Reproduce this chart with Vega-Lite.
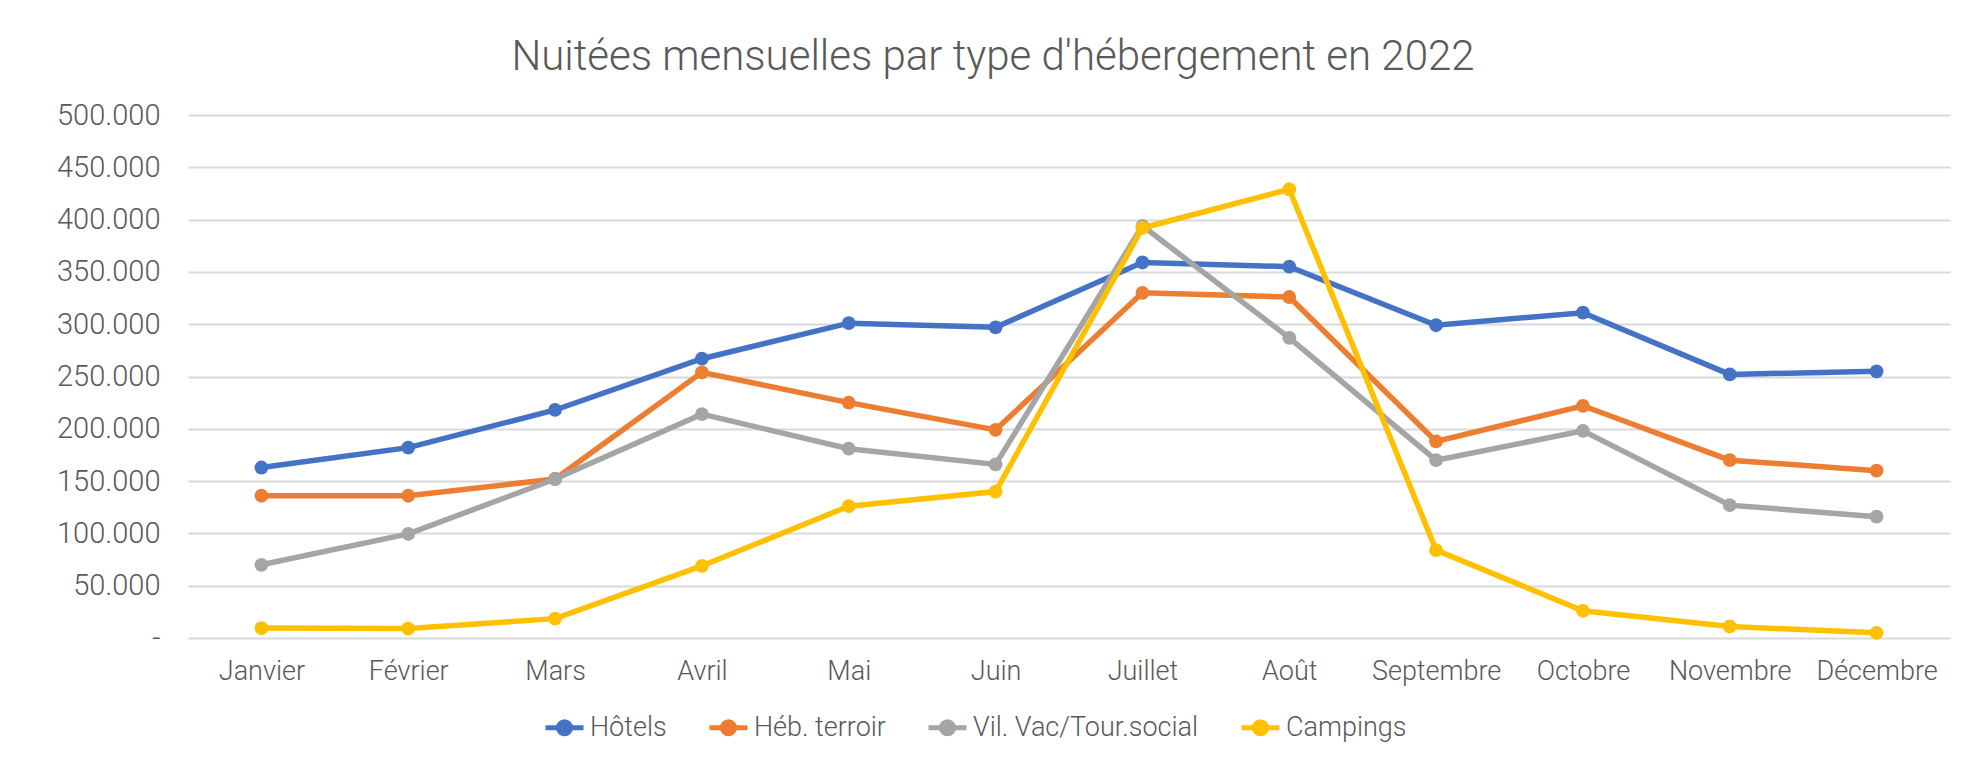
{
  "$schema": "https://vega.github.io/schema/vega-lite/v6.json",
  "width": 1762,
  "height": 523,
  "autosize": {"type": "none"},
  "padding": {"left": 188, "top": 115, "right": 12, "bottom": 124},
  "background": "white",
  "config": {
    "locale": {"number": {"decimal": ",", "thousands": ".", "grouping": [3], "currency": ["", " €"]}},
    "font": "Roboto",
    "view": {"stroke": null}
  },
  "title": {
    "text": "Nuitées mensuelles par type d'hébergement en 2022",
    "fontSize": 42,
    "font": "Roboto",
    "fontWeight": 300,
    "color": "#595959",
    "anchor": "middle",
    "frame": "group",
    "dx": -76,
    "offset": 22
  },
  "data": {
    "values": [
      {"mois": "Janvier", "type": "Hôtels", "nuitees": 163000},
      {"mois": "Février", "type": "Hôtels", "nuitees": 182000},
      {"mois": "Mars", "type": "Hôtels", "nuitees": 218000},
      {"mois": "Avril", "type": "Hôtels", "nuitees": 267000},
      {"mois": "Mai", "type": "Hôtels", "nuitees": 301000},
      {"mois": "Juin", "type": "Hôtels", "nuitees": 297000},
      {"mois": "Juillet", "type": "Hôtels", "nuitees": 359000},
      {"mois": "Août", "type": "Hôtels", "nuitees": 355000},
      {"mois": "Septembre", "type": "Hôtels", "nuitees": 299000},
      {"mois": "Octobre", "type": "Hôtels", "nuitees": 311000},
      {"mois": "Novembre", "type": "Hôtels", "nuitees": 252000},
      {"mois": "Décembre", "type": "Hôtels", "nuitees": 255000},
      {"mois": "Janvier", "type": "Héb. terroir", "nuitees": 136000},
      {"mois": "Février", "type": "Héb. terroir", "nuitees": 136000},
      {"mois": "Mars", "type": "Héb. terroir", "nuitees": 152000},
      {"mois": "Avril", "type": "Héb. terroir", "nuitees": 254000},
      {"mois": "Mai", "type": "Héb. terroir", "nuitees": 225000},
      {"mois": "Juin", "type": "Héb. terroir", "nuitees": 199000},
      {"mois": "Juillet", "type": "Héb. terroir", "nuitees": 330000},
      {"mois": "Août", "type": "Héb. terroir", "nuitees": 326000},
      {"mois": "Septembre", "type": "Héb. terroir", "nuitees": 188000},
      {"mois": "Octobre", "type": "Héb. terroir", "nuitees": 222000},
      {"mois": "Novembre", "type": "Héb. terroir", "nuitees": 170000},
      {"mois": "Décembre", "type": "Héb. terroir", "nuitees": 160000},
      {"mois": "Janvier", "type": "Vil. Vac/Tour.social", "nuitees": 70000},
      {"mois": "Février", "type": "Vil. Vac/Tour.social", "nuitees": 99500},
      {"mois": "Mars", "type": "Vil. Vac/Tour.social", "nuitees": 152000},
      {"mois": "Avril", "type": "Vil. Vac/Tour.social", "nuitees": 214000},
      {"mois": "Mai", "type": "Vil. Vac/Tour.social", "nuitees": 181000},
      {"mois": "Juin", "type": "Vil. Vac/Tour.social", "nuitees": 166000},
      {"mois": "Juillet", "type": "Vil. Vac/Tour.social", "nuitees": 394000},
      {"mois": "Août", "type": "Vil. Vac/Tour.social", "nuitees": 287000},
      {"mois": "Septembre", "type": "Vil. Vac/Tour.social", "nuitees": 170000},
      {"mois": "Octobre", "type": "Vil. Vac/Tour.social", "nuitees": 198000},
      {"mois": "Novembre", "type": "Vil. Vac/Tour.social", "nuitees": 127000},
      {"mois": "Décembre", "type": "Vil. Vac/Tour.social", "nuitees": 116000},
      {"mois": "Janvier", "type": "Campings", "nuitees": 9500},
      {"mois": "Février", "type": "Campings", "nuitees": 9000},
      {"mois": "Mars", "type": "Campings", "nuitees": 18500},
      {"mois": "Avril", "type": "Campings", "nuitees": 69000},
      {"mois": "Mai", "type": "Campings", "nuitees": 126000},
      {"mois": "Juin", "type": "Campings", "nuitees": 140000},
      {"mois": "Juillet", "type": "Campings", "nuitees": 392000},
      {"mois": "Août", "type": "Campings", "nuitees": 429000},
      {"mois": "Septembre", "type": "Campings", "nuitees": 84000},
      {"mois": "Octobre", "type": "Campings", "nuitees": 26000},
      {"mois": "Novembre", "type": "Campings", "nuitees": 11000},
      {"mois": "Décembre", "type": "Campings", "nuitees": 5000}
    ]
  },
  "encoding": {
    "x": {
      "field": "mois",
      "type": "ordinal",
      "sort": null,
      "scale": {"type": "point", "padding": 0.5},
      "axis": {
        "title": null,
        "labelAngle": 0,
        "labelFontSize": 27,
        "labelFont": "Roboto",
        "labelFontWeight": 300,
        "labelColor": "#595959",
        "labelPadding": 20,
        "labelLimit": 0,
        "ticks": false,
        "domain": false,
        "grid": false
      }
    },
    "y": {
      "field": "nuitees",
      "type": "quantitative",
      "scale": {"domain": [0, 500000], "nice": false},
      "axis": {
        "title": null,
        "values": [0, 50000, 100000, 150000, 200000, 250000, 300000, 350000, 400000, 450000, 500000],
        "format": ",.0f",
        "labelExpr": "datum.value === 0 ? '-' : datum.label",
        "labelFontSize": 29,
        "labelFont": "Roboto",
        "labelFontWeight": 300,
        "labelColor": "#595959",
        "labelPadding": 28,
        "labelLimit": 0,
        "ticks": false,
        "domain": false,
        "grid": true,
        "gridColor": "#D9D9D9",
        "gridWidth": 2
      }
    },
    "color": {
      "field": "type",
      "type": "nominal",
      "sort": ["Hôtels", "Héb. terroir", "Vil. Vac/Tour.social", "Campings"],
      "scale": {
        "domain": ["Hôtels", "Héb. terroir", "Vil. Vac/Tour.social", "Campings"],
        "range": ["#4472C4", "#ED7D31", "#A5A5A5", "#FFC000"]
      },
      "legend": {
        "title": null,
        "orient": "none",
        "direction": "horizontal",
        "legendX": 355,
        "legendY": 591,
        "labelFontSize": 27,
        "labelFont": "Roboto",
        "labelFontWeight": 300,
        "labelColor": "#595959",
        "labelOffset": 4,
        "labelLimit": 0,
        "columnPadding": 32,
        "symbolType": "M-1,0L1,0M-0.32,0A0.32,0.32,0,1,1,0.32,0A0.32,0.32,0,1,1,-0.32,0Z",
        "symbolSize": 1444,
        "symbolStrokeWidth": 5,
        "encode": {
          "symbols": {"update": {"fill": {"scale": "color", "field": "value"}, "stroke": {"scale": "color", "field": "value"}, "fillOpacity": {"value": 1}}}
        }
      }
    }
  },
  "layer": [
    {"mark": {"type": "line", "strokeWidth": 5.5}},
    {"mark": {"type": "point", "filled": true, "size": 190, "opacity": 1}}
  ]
}
